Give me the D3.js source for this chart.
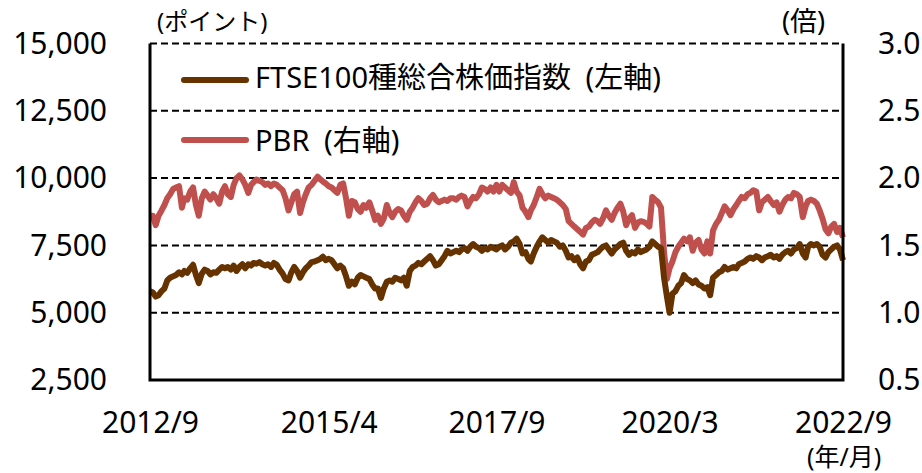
<!DOCTYPE html>
<html>
<head>
<meta charset="utf-8">
<script src="https://cdn.jsdelivr.net/npm/d3@7"></script>
<style>
  body { margin: 0; background: #fff; }
  svg text { font-family: "Noto Sans", "Noto Sans CJK JP", sans-serif; fill: #000; }
</style>
</head>
<body>
<svg id="chart" width="922" height="473"></svg>
<script>
// semi-monthly points (1st and 16th) from 2012/9 to 2022/9
const ftse = [
  5800,5750,5600,5650,5800,5900,6200,6300,6350,6400,
  6500,6420,6550,6480,6650,6780,6400,6100,6450,6600,
  6550,6420,6500,6480,6600,6700,6650,6700,6600,6750,
  6550,6700,6800,6650,6800,6750,6850,6820,6880,6800,
  6750,6800,6700,6850,6780,6600,6450,6250,6200,6500,
  6700,6550,6300,6500,6650,6750,6880,6900,6950,7000,
  7080,6950,7000,6950,6800,6650,6750,6650,6350,6000,
  6150,6050,6300,6400,6350,6300,6250,6050,5900,5900,
  5550,5900,6150,6200,6150,6300,6250,6200,6300,6000,
  6550,6700,6750,6850,6800,6900,7000,7100,6950,6750,
  6800,6950,7100,7300,7200,7250,7300,7250,7350,7400,
  7300,7450,7550,7450,7400,7300,7400,7350,7450,7400,
  7350,7450,7500,7350,7450,7600,7650,7750,7550,7200,
  7250,7000,6900,7200,7450,7650,7800,7700,7600,7700,
  7650,7600,7450,7500,7300,7050,7100,6950,7050,6800,
  6650,6900,6950,7150,7200,7250,7350,7450,7500,7350,
  7200,7350,7450,7550,7600,7300,7150,7250,7200,7350,
  7250,7300,7350,7450,7650,7550,7450,7400,6300,5600,
  5000,5700,5800,6000,6100,6400,6250,6200,6100,6200,
  6050,6000,5900,5950,5650,6300,6400,6500,6550,6700,
  6600,6650,6700,6650,6800,6850,6900,7000,7050,7000,
  7100,7050,6950,7050,7100,7150,7050,7100,7000,7150,
  7250,7300,7200,7350,7400,7550,7200,7050,7450,7550,
  7500,7550,7450,7150,7050,7250,7350,7450,7500,7350,
  6950
];
const pbr = [
  1.72,1.72,1.65,1.72,1.76,1.80,1.85,1.88,1.92,1.93,
  1.94,1.78,1.85,1.84,1.90,1.93,1.80,1.72,1.85,1.90,
  1.87,1.84,1.88,1.85,1.81,1.90,1.94,1.88,1.86,1.95,
  2.00,2.02,1.99,1.95,1.89,1.95,1.97,1.99,1.98,1.97,
  1.95,1.96,1.94,1.96,1.95,1.93,1.91,1.85,1.76,1.82,
  1.88,1.90,1.74,1.82,1.88,1.93,1.95,1.98,2.01,1.99,
  1.975,1.96,1.94,1.93,1.91,1.89,1.95,1.96,1.85,1.72,
  1.83,1.82,1.77,1.75,1.80,1.78,1.82,1.76,1.69,1.72,
  1.66,1.70,1.80,1.74,1.71,1.75,1.77,1.76,1.72,1.69,
  1.75,1.78,1.82,1.85,1.83,1.80,1.81,1.85,1.875,1.84,
  1.82,1.83,1.84,1.83,1.85,1.85,1.84,1.86,1.87,1.86,
  1.79,1.83,1.86,1.85,1.88,1.93,1.92,1.90,1.93,1.90,
  1.95,1.90,1.95,1.93,1.91,1.89,1.97,1.90,1.87,1.78,
  1.75,1.71,1.76,1.80,1.86,1.92,1.88,1.85,1.87,1.86,
  1.85,1.84,1.82,1.80,1.77,1.68,1.66,1.64,1.62,1.60,
  1.58,1.63,1.64,1.67,1.69,1.68,1.66,1.70,1.76,1.72,
  1.69,1.74,1.78,1.81,1.75,1.65,1.70,1.725,1.63,1.67,
  1.68,1.675,1.66,1.64,1.86,1.84,1.82,1.78,1.45,1.25,
  1.33,1.38,1.45,1.49,1.52,1.55,1.53,1.56,1.46,1.52,
  1.54,1.47,1.44,1.53,1.44,1.61,1.66,1.69,1.74,1.79,
  1.76,1.725,1.77,1.80,1.83,1.86,1.85,1.88,1.89,1.91,
  1.90,1.76,1.82,1.84,1.86,1.83,1.80,1.82,1.75,1.80,
  1.84,1.86,1.85,1.89,1.88,1.86,1.71,1.79,1.83,1.84,
  1.83,1.81,1.76,1.70,1.62,1.59,1.64,1.66,1.60,1.63,
  1.56
];
const leftTicks = [2500, 5000, 7500, 10000, 12500, 15000];
const rightTicks = [0.5, 1.0, 1.5, 2.0, 2.5, 3.0];
const xTicks = ["2012/9", "2015/4", "2017/9", "2020/3", "2022/9"];
const seriesNames = ["FTSE100種総合株価指数\u2002(左軸)", "PBR\u2002(右軸)"];
const colors = ["#663300", "#C0504D"];

const parseYM = d3.timeParse("%Y/%m");
const months = d3.timeMonth.range(parseYM("2012/9"), d3.timeMonth.offset(parseYM("2022/9"), 1));
const dates = [];
months.forEach(function(m){
  dates.push(m);
  dates.push(d3.timeDay.offset(m, 15));
});

const svg = d3.select("#chart");
const plotL = 150, plotR = 843, plotT = 43.5, plotB = 380;

const x = d3.scaleTime().domain([parseYM("2012/9"), parseYM("2022/9")]).range([plotL, plotR]);
const yL = d3.scaleLinear().domain([2500, 15000]).range([plotB, plotT]);
const yR = d3.scaleLinear().domain([0.5, 3.0]).range([plotB, plotT]);

// gridlines (dashed)
svg.append("g").selectAll("line")
  .data(leftTicks.filter(d => d > 2500))
  .join("line")
  .attr("x1", plotL).attr("x2", plotR)
  .attr("y1", d => yL(d)).attr("y2", d => yL(d))
  .attr("stroke", "#000").attr("stroke-width", 2)
  .attr("stroke-dasharray", "7,4");

// series
const ftseData = dates.slice(0, ftse.length).map((d, i) => [d, ftse[i]]);
const pbrData = dates.slice(0, pbr.length).map((d, i) => [d, pbr[i]]);

svg.append("path")
  .datum(pbrData)
  .attr("fill", "none")
  .attr("stroke", colors[1])
  .attr("stroke-width", 6)
  .attr("stroke-linejoin", "round")
  .attr("d", d3.line().x(d => x(d[0])).y(d => yR(d[1])));

svg.append("path")
  .datum(ftseData)
  .attr("fill", "none")
  .attr("stroke", colors[0])
  .attr("stroke-width", 6)
  .attr("stroke-linejoin", "round")
  .attr("d", d3.line().x(d => x(d[0])).y(d => yL(d[1])));

// frame: left, bottom, right solid
svg.append("path")
  .attr("d", `M${plotL},${plotT} V${plotB} H${plotR} V${plotT}`)
  .attr("fill", "none").attr("stroke", "#000").attr("stroke-width", 3);

// axes
const fmt = d3.format(",");
const gL = svg.append("g").attr("transform", `translate(${plotL},0)`)
  .call(d3.axisLeft(yL).tickValues(leftTicks).tickFormat(fmt).tickSize(0).tickPadding(43));
const gR = svg.append("g").attr("transform", `translate(${plotR},0)`)
  .call(d3.axisRight(yR).tickValues(rightTicks).tickFormat(d3.format(".1f")).tickSize(0).tickPadding(35));
const gB = svg.append("g").attr("transform", `translate(0,${plotB})`)
  .call(d3.axisBottom(x).tickValues(xTicks.map(parseYM)).tickFormat(d3.timeFormat("%Y/%-m")).tickSize(0).tickPadding(32));
[gL, gR, gB].forEach(g => {
  g.select(".domain").remove();
  g.selectAll("text").style("font-size", "30px").style("font-family", "'Noto Sans', sans-serif").attr("fill", "#000");
});

// unit labels
svg.append("text").attr("x", 157).attr("y", 30).style("font-size", "24px").text("(ポイント)");
svg.append("text").attr("x", 782).attr("y", 31).style("font-size", "27px").text("(倍)");
svg.append("text").attr("x", 807).attr("y", 466).style("font-size", "25px").text("(年/月)");

// legend
const legend = svg.append("g");
seriesNames.forEach(function(name, i){
  const ly = 80 + i * 60;
  legend.append("line")
    .attr("x1", 184).attr("x2", 246).attr("y1", ly).attr("y2", ly)
    .attr("stroke", colors[i]).attr("stroke-width", 6).attr("stroke-linecap", "round");
  legend.append("text")
    .attr("x", 255).attr("y", ly + 8 + i * 3)
    .style("font-size", "29px")
    .text(name);
});
</script>
</body>
</html>
